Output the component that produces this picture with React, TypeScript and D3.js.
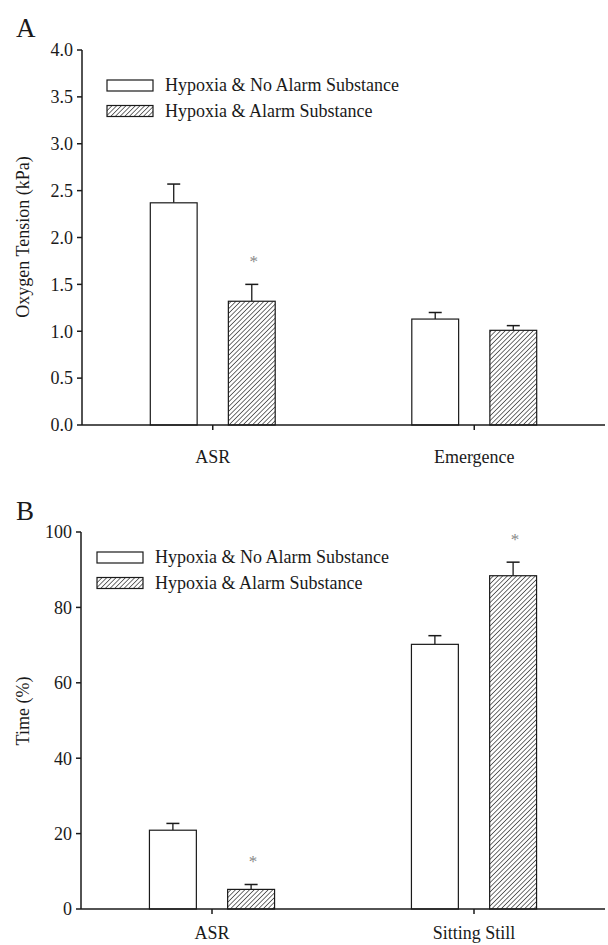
import React from 'react';
import * as d3 from 'd3';

// series names shared by both panels
const seriesNames = ['Hypoxia & No Alarm Substance', 'Hypoxia & Alarm Substance'];

// panel A: oxygen tension
const categoriesA = ['ASR', 'Emergence'];
const noAlarmA = [2.37, 1.13];
const noAlarmErrA = [0.2, 0.07];
const alarmA = [1.32, 1.01];
const alarmErrA = [0.18, 0.05];
const starA = [true, false];
const ticksA = [0, 0.5, 1.0, 1.5, 2.0, 2.5, 3.0, 3.5, 4.0];

// panel B: time
const categoriesB = ['ASR', 'Sitting Still'];
const noAlarmB = [20.9, 70.2];
const noAlarmErrB = [1.8, 2.3];
const alarmB = [5.2, 88.4];
const alarmErrB = [1.3, 3.6];
const starB = [true, true];
const ticksB = [0, 20, 40, 60, 80, 100];

const FONT = "'Liberation Serif', 'DejaVu Serif', serif";
const INK = '#1a1a1a';

type PanelProps = {
  letter: string;
  letterY: number;
  categories: string[];
  values: number[][];
  errors: number[][];
  stars: boolean[];
  ticks: number[];
  tickFmt: (v: number) => string;
  yMax: number;
  top: number;
  bottom: number;
  left: number;
  right: number;
  yTitle: string;
  yTitleY: number;
  labelY: number;
  legendX: number;
  legendY: number;
};

const Panel = (p: PanelProps) => {
  const x0 = d3.scaleBand<string>().domain(p.categories).range([p.left, p.right]).padding(0);
  const x1 = d3.scaleBand<number>().domain([0, 1]).range([0, x0.bandwidth()]).paddingInner(0.4).paddingOuter(0.875);
  const y = d3.scaleLinear().domain([0, p.yMax]).range([p.bottom, p.top]);
  const fills = ['#fff', 'url(#hatch)'];

  return (
    <g>
      <text x={16} y={p.letterY} fontSize={27}>{p.letter}</text>

      {/* bars */}
      {p.categories.map((c, ci) => (
        <g key={c}>
          {[0, 1].map(si => {
            const v = p.values[si][ci];
            const e = p.errors[si][ci];
            const bx = x0(c)! + x1(si)!;
            const bw = x1.bandwidth();
            const cx = bx + bw / 2;
            return (
              <g key={si}>
                <line x1={cx} x2={cx} y1={y(v)} y2={y(v + e)} stroke={INK} strokeWidth={1.3} />
                <line x1={cx - 6.5} x2={cx + 6.5} y1={y(v + e)} y2={y(v + e)} stroke={INK} strokeWidth={1.5} />
                <rect x={bx} y={y(v)} width={bw} height={p.bottom - y(v)} fill={fills[si]} stroke={INK} strokeWidth={1.2} />
                {si === 1 && p.stars[ci] && (
                  <text x={cx + 2} y={y(v + e) - 17} textAnchor="middle" fontSize={17} fill="#888">*</text>
                )}
              </g>
            );
          })}
        </g>
      ))}

      {/* y axis */}
      <line x1={p.left} x2={p.left} y1={p.top} y2={p.bottom} stroke={INK} strokeWidth={1.5} />
      {p.ticks.map(t => (
        <g key={t}>
          <line x1={p.left - 5} x2={p.left} y1={y(t)} y2={y(t)} stroke={INK} strokeWidth={1.5} />
          <text x={p.left - 9} y={y(t)} dy="0.35em" textAnchor="end" fontSize={18}>{p.tickFmt(t)}</text>
        </g>
      ))}
      <text transform={`translate(29,${p.yTitleY}) rotate(-90)`} textAnchor="middle" fontSize={18}>{p.yTitle}</text>

      {/* x axis */}
      <line x1={p.left} x2={p.right} y1={p.bottom} y2={p.bottom} stroke={INK} strokeWidth={1.5} />
      {p.categories.map(c => {
        const cx = x0(c)! + x0.bandwidth() / 2;
        return (
          <g key={c}>
            <line x1={cx} x2={cx} y1={p.bottom} y2={p.bottom + 5} stroke={INK} strokeWidth={1.5} />
            <text x={cx} y={p.labelY} textAnchor="middle" fontSize={18}>{c}</text>
          </g>
        );
      })}

      {/* legend */}
      {seriesNames.map((s, i) => (
        <g key={s} transform={`translate(${p.legendX},${p.legendY + i * 25.5})`}>
          <rect x={0} y={0} width={46} height={11} fill={fills[i]} stroke={INK} strokeWidth={1.2} />
          <text x={58} y={11} fontSize={18}>{s}</text>
        </g>
      ))}
    </g>
  );
};

export default function App() {
  return (
    <div style={{ position: 'fixed', left: 0, top: 0 }}>
      <svg width={608} height={945} style={{ display: 'block', background: '#fff', fontFamily: FONT, fill: INK }}>
        <defs>
          <pattern id="hatch" patternUnits="userSpaceOnUse" width={3.3} height={3.3} patternTransform="rotate(45)">
            <rect width={3.3} height={3.3} fill="#fff" />
            <line x1={0} y1={0} x2={0} y2={3.3} stroke="#222" strokeWidth={1.3} />
          </pattern>
        </defs>
        <Panel
          letter="A" letterY={37}
          categories={categoriesA}
          values={[noAlarmA, alarmA]}
          errors={[noAlarmErrA, alarmErrA]}
          stars={starA}
          ticks={ticksA}
          tickFmt={v => v.toFixed(1)}
          yMax={4}
          top={50} bottom={425} left={82} right={605}
          yTitle="Oxygen Tension (kPa)" yTitleY={237}
          labelY={463}
          legendX={107} legendY={80}
        />
        <Panel
          letter="B" letterY={520}
          categories={categoriesB}
          values={[noAlarmB, alarmB]}
          errors={[noAlarmErrB, alarmErrB]}
          stars={starB}
          ticks={ticksB}
          tickFmt={v => String(v)}
          yMax={100}
          top={532} bottom={909} left={81} right={605}
          yTitle="Time (%)" yTitleY={711}
          labelY={939}
          legendX={97} legendY={552}
        />
      </svg>
    </div>
  );
}
